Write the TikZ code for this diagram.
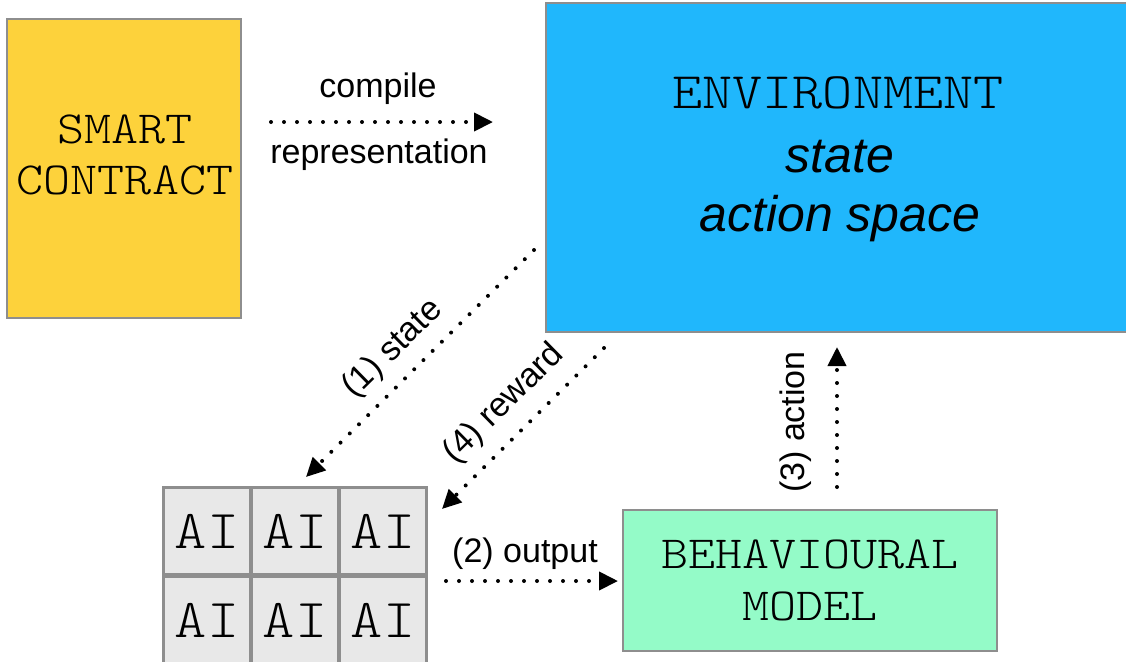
\documentclass[tikz,border=0pt]{standalone}
\usepackage{fontspec}
\setmainfont{Liberation Sans}
\setsansfont{Liberation Sans}
\setmonofont[FakeStretch=1.12]{lmmonolt10-regular.otf}
\usetikzlibrary{arrows.meta}
\definecolor{cyellow}{HTML}{FDD23B}
\definecolor{cblue}{HTML}{20B7FC}
\definecolor{cgreen}{HTML}{94FBC8}
\definecolor{ccell}{HTML}{E8E8E8}
\definecolor{cborder}{HTML}{8E8E8E}
\tikzset{
  box/.style={draw=cborder, line width=1.2pt, inner sep=0pt},
  cell/.style={box, fill=ccell, minimum width=43.5pt, minimum height=43.5pt,
    font=\ttfamily\fontsize{27.4pt}{30pt}\selectfont},
  monotext/.style={align=center, inner sep=0pt, font=\ttfamily\fontsize{23pt}{25.8pt}\selectfont},
  lbl/.style={font=\sffamily\fontsize{17pt}{20pt}\selectfont, inner sep=0pt},
  envlbl/.style={font=\sffamily\itshape\fontsize{25pt}{30pt}\selectfont, inner sep=0pt, anchor=base},
  flow/.style={line width=2pt, line cap=round, dash pattern=on 0pt off 6.5pt,
    -{Triangle[length=9.5pt,width=9pt]}},
}
\begin{document}
\begin{tikzpicture}[x=0.5pt,y=-0.5pt]
\useasboundingbox (0,0) rectangle (1126,661);
\clip (0,0) rectangle (1126,661);
% boxes
\node[box, fill=cyellow, minimum width=117pt, minimum height=149.5pt] (smart) at (124,168.5) {};
\node[monotext] (smarttext) at (125,155) {SMART\\CONTRACT};
\node[box, fill=cblue, minimum width=297pt, minimum height=164.5pt] (env) at (843,167.5) {};
\node[anchor=base, inner sep=0pt, font=\ttfamily\fontsize{25.6pt}{30pt}\selectfont] (envname) at (838,108) {ENVIRONMENT};
\node[envlbl] (envstate) at (840,172) {state};
\node[envlbl] (envaction) at (840,231) {action space};
\node[box, fill=cgreen, minimum width=187pt, minimum height=70.5pt] (behav) at (810,580.5) {};
\node[monotext] (behavtext) at (810,580.5) {BEHAVIOURAL\\MODEL};
% AI grid
\node[cell] (ai11) at (207,531) {AI};
\node[cell] (ai12) at (295,531) {AI};
\node[cell] (ai13) at (383,531) {AI};
\node[cell] (ai21) at (207,620) {AI};
\node[cell] (ai22) at (295,620) {AI};
\node[cell] (ai23) at (383,620) {AI};
% connector end points
\coordinate (cs) at (271,122);
\coordinate (ce) at (493,122);
\coordinate (ss) at (534,250);
\coordinate (se) at (306,477);
\coordinate (rs) at (604,348);
\coordinate (re) at (442,509);
\coordinate (os) at (446,581);
\coordinate (oe) at (618,581);
\coordinate (as) at (837,487);
\coordinate (ae) at (837,347);
\draw[flow] (cs) -- (ce);
\draw[flow] (ss) -- (se);
\draw[flow] (rs) -- (re);
\draw[flow] (os) -- (oe);
\draw[flow] (as) -- (ae);
% labels
\node[lbl, anchor=base] (lcompile) at (378,97) {compile};
\node[lbl, anchor=base] (lrep) at (379,163) {representation};
\node[lbl, rotate=44.5] (lstate) at (393,349) {(1) state};
\node[lbl, rotate=44.6] (lreward) at (504,404) {(4) reward};
\node[lbl, anchor=base] (loutput) at (525,562) {(2) output};
\node[lbl, rotate=90] (laction) at (796,422) {(3) action};
\end{tikzpicture}
\end{document}
